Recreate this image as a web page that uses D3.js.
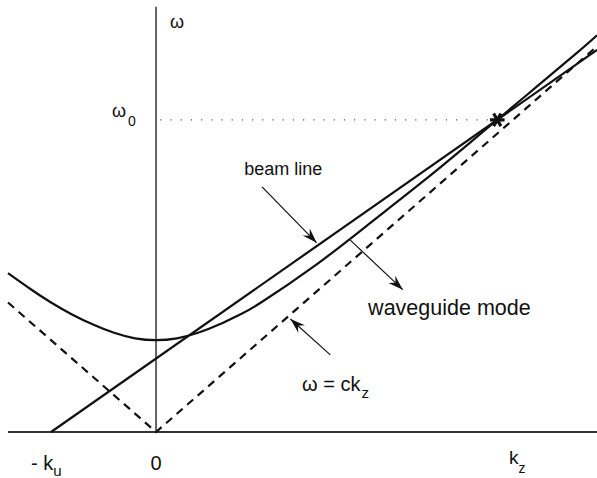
<!DOCTYPE html>
<html lang="en">
<head>
    <meta charset="utf-8">
    <title>Waveguide dispersion</title>
    <style>
        body{ margin:0; background:#fff; font-family: "Liberation Sans", Arial, Helvetica, sans-serif;}
        text{ fill:#111; }
    </style>
    <script type="text/javascript" src="https://d3js.org/d3.v7.min.js"></script>
</head>
<body>
    <div class="chart"></div>

    <script type="text/javascript">
        // DATA ------------------------------------
        // waveguide mode (k in units of k_u, omega in units of cutoff)
        const waveK     = [-1.41, -1.2, -1.0, -0.8, -0.6, -0.4, -0.2, 0, 0.2, 0.4, 0.6, 0.8, 1.0, 1.5, 2.0, 2.5, 3.0, 3.5, 4.0, 4.2];
        const waveOmega = [1.73, 1.56, 1.41, 1.28, 1.17, 1.08, 1.02, 1.0, 1.02, 1.08, 1.17, 1.28, 1.41, 1.80, 2.24, 2.69, 3.16, 3.64, 4.12, 4.32];
        // beam line
        const beamK     = [-1.0, 4.2];
        const beamOmega = [0, 4.16];
        // light line omega = c k (both branches)
        const lightK     = [-1.41, 0, 4.2];
        const lightOmega = [1.41, 0, 4.2];
        // resonance point (crossing of beam line and waveguide mode)
        const resK = 3.25, resOmega = 3.40;
        const kU = -1.0;

        // CHART INIT ------------------------------
        const W = 597, H = 478;
        const svg = d3.select(".chart").append("svg")
            .attr("width", W).attr("height", H);

        const x = d3.scaleLinear().domain([-1.41, 4.2]).range([8, 597]);
        const y = d3.scaleLinear().domain([0, 4.65]).range([432, 5]);

        const zip = (a, b) => a.map((v, i) => [v, b[i]]);
        const line = d3.line().x(d => x(d[0])).y(d => y(d[1]));

        // arrowhead
        svg.append("defs").append("marker")
            .attr("id", "head")
            .attr("viewBox", "-16 -7 18 14")
            .attr("refX", 0).attr("refY", 0)
            .attr("markerWidth", 18).attr("markerHeight", 14)
            .attr("markerUnits", "userSpaceOnUse")
            .attr("orient", "auto")
            .append("path")
            .attr("d", "M0,0 L-15,-5 L-10,0 L-15,5 Z")
            .attr("fill", "#111");

        // axes
        svg.append("line")
            .attr("x1", x(-1.41)).attr("x2", x(4.2))
            .attr("y1", y(0)).attr("y2", y(0))
            .attr("stroke", "#333").attr("stroke-width", 2);
        svg.append("line")
            .attr("x1", x(0)).attr("x2", x(0))
            .attr("y1", y(0)).attr("y2", y(4.63))
            .attr("stroke", "#333").attr("stroke-width", 1.5);

        // omega_0 dotted level
        svg.append("line")
            .attr("x1", x(0.04)).attr("x2", x(resK))
            .attr("y1", y(resOmega)).attr("y2", y(resOmega))
            .attr("stroke", "#555").attr("stroke-width", 1.2)
            .attr("stroke-dasharray", "1.2,9");

        // light line (dashed)
        svg.append("path")
            .attr("d", line(zip(lightK, lightOmega)))
            .attr("fill", "none").attr("stroke", "#111")
            .attr("stroke-width", 2.2).attr("stroke-dasharray", "8,6");

        // beam line
        svg.append("path")
            .attr("d", line(zip(beamK, beamOmega)))
            .attr("fill", "none").attr("stroke", "#111").attr("stroke-width", 2.2);

        // waveguide mode
        svg.append("path")
            .attr("d", line.curve(d3.curveNatural)(zip(waveK, waveOmega)))
            .attr("fill", "none").attr("stroke", "#111").attr("stroke-width", 2.2);
        line.curve(d3.curveLinear);

        // resonance marker
        svg.append("path")
            .attr("d", d3.symbol(d3.symbolAsterisk, 150)())
            .attr("transform", `translate(${x(resK)},${y(resOmega)}) rotate(90)`)
            .attr("fill", "none").attr("stroke", "#111").attr("stroke-width", 3.2);

        // annotation arrows [k0, w0, k1, w1]
        const arrows = [
            [1.01, 2.67, 1.53, 2.06],
            [1.85, 2.09, 2.35, 1.55],
            [1.66, 0.84, 1.28, 1.23]
        ];
        svg.selectAll(".arrow").data(arrows).enter().append("line")
            .attr("class", "arrow")
            .attr("x1", d => x(d[0])).attr("y1", d => y(d[1]))
            .attr("x2", d => x(d[2])).attr("y2", d => y(d[3]))
            .attr("stroke", "#111").attr("stroke-width", 1.2)
            .attr("marker-end", "url(#head)");

        // labels
        svg.append("text").attr("x", x(0.84)).attr("y", y(2.80))
            .attr("font-size", 18).text("beam line");
        svg.append("text").attr("x", x(2.02)).attr("y", y(1.275))
            .attr("font-size", 21.5).text("waveguide mode");

        const lc = svg.append("text").attr("x", x(1.39)).attr("y", y(0.447)).attr("font-size", 20);
        lc.append("tspan").text("ω = ck");
        lc.append("tspan").attr("font-size", 15).attr("dy", 7).attr("dx", 1).text("z");

        const w0 = svg.append("text").attr("x", 112).attr("y", y(resOmega) - 3).attr("font-size", 18);
        w0.append("tspan").text("ω");
        w0.append("tspan").attr("font-size", 14).attr("dy", 9).attr("dx", 2).text("0");

        svg.append("text").attr("x", x(0) + 14).attr("y", 28)
            .attr("font-size", 18).text("ω");

        // axis ticks
        const ku = svg.append("text").attr("x", x(kU) - 20).attr("y", 470).attr("font-size", 20);
        ku.append("tspan").text("- k");
        ku.append("tspan").attr("font-size", 15).attr("dy", 6).text("u");

        svg.append("text").attr("x", x(0)).attr("y", 470)
            .attr("text-anchor", "middle").attr("font-size", 20).text("0");

        const kz = svg.append("text").attr("x", 509).attr("y", 464).attr("font-size", 19);
        kz.append("tspan").text("k");
        kz.append("tspan").attr("font-size", 14).attr("dy", 9).text("z");
    </script>
</body>
</html>
